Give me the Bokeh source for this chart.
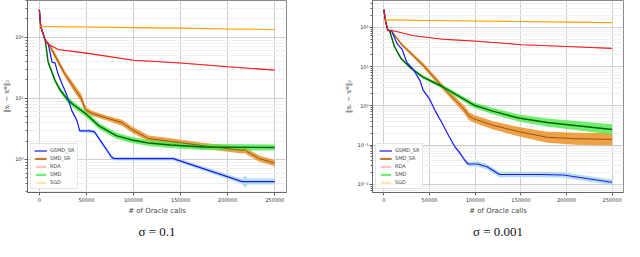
import numpy as np
from bokeh.plotting import figure
from bokeh.layouts import row
from bokeh.models import (Range1d, FixedTicker, CustomJSTickFormatter,
                          NumeralTickFormatter, Legend, LegendItem, LinearAxis)
from bokeh.embed import file_html
from bokeh.resources import INLINE

# ---------------- data: sigma = 0.1 (left panel) ----------------
L_gsmd_x = [0, 1500, 6300, 9400, 13600, 16700, 19900, 25100, 29300, 34500, 39700, 42900,
            53300, 58600, 76400, 79500, 142300, 215500, 218500, 221000, 250000]
L_gsmd_y = [283, 150, 90, 78, 39, 38, 25, 16, 11.3, 6.3, 4.44, 2.93,
            2.93, 2.83, 1.11, 1.03, 1.03, 0.435, 0.435, 0.435, 0.435]
L_gsmd_s = [0.01, 0.01, 0.01, 0.01, 0.01, 0.01, 0.01, 0.015, 0.015, 0.02, 0.02, 0.025,
            0.03, 0.03, 0.03, 0.03, 0.03, 0.04, 0.1, 0.05, 0.05]

L_smdsr_x = [0, 1500, 6000, 10000, 16700, 27200, 35600, 45000, 48100, 50200, 56500, 71100,
             87900, 98300, 116100, 139000, 152700, 173600, 215500, 218600, 221000, 234000, 250000]
L_smdsr_y = [283, 150, 90, 78, 50, 25, 16, 9.8, 7.0, 6.3, 5.65, 4.8,
             4.0, 3.1, 2.2, 1.99, 1.86, 1.68, 1.41, 1.45, 1.33, 1.03, 0.87]
L_smdsr_s = [0.01, 0.01, 0.02, 0.03, 0.05, 0.05, 0.06, 0.07, 0.06, 0.05, 0.04, 0.04,
             0.05, 0.05, 0.05, 0.05, 0.05, 0.05, 0.05, 0.06, 0.05, 0.05, 0.05]

L_rda_x = [0, 1500, 6000, 10000, 20000, 50000, 100000, 150000, 200000, 250000]
L_rda_y = [283, 150, 90, 76, 63, 55, 42, 38, 33, 29]
L_rda_s = [0.01, 0.01, 0.01, 0.01, 0.01, 0.01, 0.01, 0.01, 0.01, 0.01]

L_smd_x = [0, 1500, 6300, 9400, 16700, 21900, 29300, 35600, 50200, 63800, 81600, 98300,
           116100, 139000, 173600, 250000]
L_smd_y = [283, 150, 90, 39, 19.6, 13.9, 9.8, 8.0, 5.46, 3.5, 2.46, 2.08,
           1.86, 1.73, 1.6, 1.57]
L_smd_s = [0.01, 0.01, 0.02, 0.03, 0.04, 0.04, 0.05, 0.05, 0.05, 0.05, 0.05, 0.05,
           0.05, 0.05, 0.05, 0.05]

L_sgd_x = [0, 50000, 100000, 150000, 200000, 250000]
L_sgd_y = [150, 147, 144, 141, 137, 134]
L_sgd_s = [0.01, 0.01, 0.01, 0.01, 0.01, 0.01]

# ---------------- data: sigma = 0.001 (right panel) ----------------
R_gsmd_x = [0, 1500, 4200, 8400, 14600, 19900, 25100, 32400, 39700, 42900, 50200, 56500,
            63800, 71100, 77400, 81600, 87900, 92000, 102500, 113000, 126600, 171500,
            196700, 223900, 250000]
R_gsmd_y = [280, 150, 85, 80, 37.7, 27.2, 12.8, 8.3, 4.3, 2.5, 1.45, 0.72,
            0.36, 0.17, 0.093, 0.07, 0.0435, 0.033, 0.033, 0.028, 0.0178, 0.0178,
            0.0173, 0.0139, 0.0113]
R_gsmd_s = [0.015, 0.015, 0.015, 0.015, 0.015, 0.015, 0.015, 0.015, 0.015, 0.015, 0.015, 0.015,
            0.015, 0.015, 0.03, 0.04, 0.05, 0.06, 0.07, 0.07, 0.07, 0.07,
            0.07, 0.07, 0.07]

R_smdsr_x = [0, 1500, 4200, 8400, 18800, 32400, 42900, 63800, 77400, 87900, 93100, 98300,
             119200, 147500, 178900, 210000, 250000]
R_smdsr_y = [280, 150, 85, 80, 37.7, 18.7, 10.9, 3.1, 1.45, 0.81, 0.55, 0.47,
             0.32, 0.22, 0.158, 0.145, 0.14]
R_smdsr_s = [0.01, 0.01, 0.02, 0.03, 0.04, 0.05, 0.06, 0.07, 0.08, 0.1, 0.1, 0.1,
             0.1, 0.12, 0.14, 0.15, 0.16]

R_rda_x = [0, 1500, 4200, 11500, 32400, 67000, 102500, 150600, 206800, 250000]
R_rda_y = [280, 150, 85, 80, 61, 49, 44, 36, 32, 29]
R_rda_s = [0.01, 0.01, 0.01, 0.01, 0.01, 0.01, 0.01, 0.01, 0.01, 0.01]

R_smd_x = [0, 1500, 4200, 6300, 11500, 18800, 29300, 42900, 63800, 84700, 98300, 119200,
           147500, 178900, 250000]
R_smd_y = [280, 150, 85, 80, 32, 15.9, 9.2, 5.36, 3.1, 1.62, 1.05, 0.73,
           0.49, 0.375, 0.25]
R_smd_s = [0.01, 0.01, 0.01, 0.02, 0.02, 0.03, 0.03, 0.04, 0.05, 0.06, 0.07, 0.08,
           0.09, 0.1, 0.13]

R_sgd_x = [0, 50000, 100000, 150000, 200000, 250000]
R_sgd_y = [154, 149, 144, 140, 135, 131]
R_sgd_s = [0.01, 0.01, 0.01, 0.01, 0.01, 0.01]

# ---------------- labels ----------------
series_names = ["GSMD_SR", "SMD_SR", "RDA", "SMD", "SGD"]
x_ticks = [0, 50000, 100000, 150000, 200000, 250000]
captions = ["σ = 0.1", "σ = 0.001"]
x_label = "# of Oracle calls"
y_label = "\u2016x\u209c \u2212 x*\u2016\u2082"

XMIN, XMAX = -12550, 262550

STY = {
    "GSMD_SR": dict(line="#1a1aff", band="#add8e6", balpha=0.9, lw=1.2),
    "SMD_SR": dict(line="#8b4a14", band="#ec9124", balpha=0.85, lw=0.9),
    "RDA": dict(line="#ff1a1a", band="#ff9a9a", balpha=0.6, lw=1.1),
    "SMD": dict(line="#006400", band="#4cea4c", balpha=0.8, lw=1.4),
    "SGD": dict(line="#ffa500", band="#ffd27f", balpha=0.6, lw=1.1),
}

sup = CustomJSTickFormatter(code="""
const e = Math.round(Math.log10(tick));
const m = {'-':'\u207b','0':'\u2070','1':'\u00b9','2':'\u00b2','3':'\u00b3'};
return '10' + String(e).split('').map(c => m[c]).join('');
""")


def panel(data, ymin, ymax, caption, width, bl, br):
    p = figure(width=width, height=241, y_axis_type="log",
               x_range=Range1d(XMIN, XMAX), y_range=Range1d(ymin, ymax),
               output_backend="svg", toolbar_location=None,
               min_border_left=bl, min_border_right=br, min_border_top=0,
               min_border_bottom=0)
    p.background_fill_color = "white"
    p.border_fill_color = "white"
    p.outline_line_color = "#888888"

    decs = [0.01, 0.1, 1, 10, 100]
    minors = [m * d for d in [0.001, 0.01, 0.1, 1, 10, 100] for m in range(2, 10)]
    p.yaxis.ticker = FixedTicker(ticks=decs, minor_ticks=minors)
    p.yaxis.formatter = sup
    p.xaxis.ticker = FixedTicker(ticks=x_ticks)
    p.xaxis.formatter = NumeralTickFormatter(format="0")
    for ax in (p.xaxis[0], p.yaxis[0]):
        ax.major_label_text_font = "DejaVu Sans"
        ax.major_label_text_font_size = "5px"
        ax.major_label_text_color = "#333333"
        ax.axis_line_color = "#666666"
        ax.major_tick_line_color = "#666666"
        ax.minor_tick_line_color = "#666666"
        ax.major_tick_out = 3
        ax.major_tick_in = 0
        ax.minor_tick_out = 2
        ax.minor_tick_in = 0
        ax.major_label_standoff = 2
        ax.axis_label_standoff = 2
    p.xaxis.axis_label = x_label
    p.xaxis.axis_label_text_font = "DejaVu Sans"
    p.xaxis.axis_label_text_font_size = "7px"
    p.xaxis.axis_label_text_font_style = "normal"
    p.yaxis.axis_label = y_label
    p.yaxis.axis_label_text_font = "DejaVu Serif"
    p.yaxis.axis_label_text_font_size = "7px"
    p.yaxis.axis_label_text_font_style = "normal"
    p.yaxis.axis_label_standoff = 1
    p.yaxis.major_label_standoff = 1
    p.xgrid.grid_line_color = "#cfcfcf"
    p.ygrid.grid_line_color = "#cfcfcf"
    p.ygrid.minor_grid_line_color = "#f0f0f0"

    # caption as a bare axis label below the x axis
    cap = LinearAxis(ticker=FixedTicker(ticks=[]), axis_line_color=None,
                     major_tick_line_color=None, minor_tick_line_color=None,
                     major_tick_out=0, minor_tick_out=0, major_label_standoff=0,
                     major_label_text_font_size="0px", axis_label=caption,
                     axis_label_text_font="Liberation Serif",
                     axis_label_text_font_size="13px",
                     axis_label_text_font_style="normal",
                     axis_label_text_color="#111111",
                     axis_label_standoff=6)
    p.add_layout(cap, "below")

    bands = {}
    for name in ["SMD_SR", "SMD", "GSMD_SR", "RDA", "SGD"]:
        xs, ys, ss = data[name]
        y = np.array(ys, dtype=float)
        s = np.array(ss, dtype=float)
        st = STY[name]
        bands[name] = p.varea(x=xs, y1=y * 10 ** (-s), y2=y * 10 ** s,
                              fill_color=st["band"], fill_alpha=st["balpha"])
    lines = {}
    for name in ["SMD_SR", "SMD", "GSMD_SR", "RDA", "SGD"]:
        xs, ys, ss = data[name]
        st = STY[name]
        lines[name] = p.line(xs, ys, line_color=st["line"], line_width=st["lw"])

    items = [
        LegendItem(label="GSMD_SR", renderers=[lines["GSMD_SR"]]),
        LegendItem(label="SMD_SR", renderers=[bands["SMD_SR"], lines["SMD_SR"]]),
        LegendItem(label="RDA", renderers=[bands["RDA"]]),
        LegendItem(label="SMD", renderers=[bands["SMD"]]),
        LegendItem(label="SGD", renderers=[bands["SGD"]]),
    ]
    leg = Legend(items=items, location="bottom_left")
    leg.label_text_font = "DejaVu Sans"
    leg.label_text_font_size = "5px"
    leg.label_height = 5
    leg.glyph_height = 3
    leg.glyph_width = 13
    leg.spacing = 2
    leg.padding = 3
    leg.margin = 3
    leg.label_standoff = 3
    leg.border_line_color = "#cccccc"
    leg.background_fill_alpha = 0.9
    p.add_layout(leg)
    return p


left_data = {
    "GSMD_SR": (L_gsmd_x, L_gsmd_y, L_gsmd_s),
    "SMD_SR": (L_smdsr_x, L_smdsr_y, L_smdsr_s),
    "RDA": (L_rda_x, L_rda_y, L_rda_s),
    "SMD": (L_smd_x, L_smd_y, L_smd_s),
    "SGD": (L_sgd_x, L_sgd_y, L_sgd_s),
}
right_data = {
    "GSMD_SR": (R_gsmd_x, R_gsmd_y, R_gsmd_s),
    "SMD_SR": (R_smdsr_x, R_smdsr_y, R_smdsr_s),
    "RDA": (R_rda_x, R_rda_y, R_rda_s),
    "SMD": (R_smd_x, R_smd_y, R_smd_s),
    "SGD": (R_sgd_x, R_sgd_y, R_sgd_s),
}

p1 = panel(left_data, 0.288, 400, captions[0], 316, 22, 30)
p2 = panel(right_data, 0.0062, 480, captions[1], 308, 56, 1)

layout = row(p1, p2)
open("out.html", "w").write(file_html(layout, INLINE))
